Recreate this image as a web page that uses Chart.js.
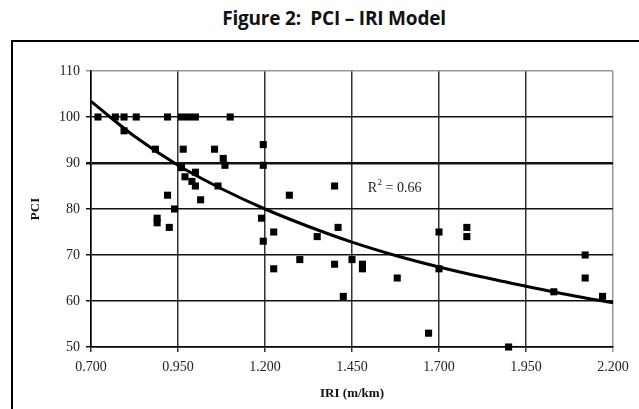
<!doctype html>
<html lang="en">
<head>
    <meta charset="UTF-8" />
    <title>Figure 2: PCI – IRI Model</title>
    <style>
        body {
            margin: 0;
            background: #fff;
            width: 639px;
            height: 409px;
            overflow: hidden;
            position: relative;
        }
        .title {
            position: absolute;
            top: 5px;
            left: 0;
            width: 668px;
            text-align: center;
            font-family: 'Open Sans', sans-serif;
            font-weight: bold;
            font-size: 19px;
            color: #111;
            white-space: pre;
            letter-spacing: -0.2px;
        }
        .frame {
            position: absolute;
            left: 11px;
            top: 40px;
            width: 660px;
            height: 400px;
            border-left: 2px solid #000;
            border-top: 2px solid #000;
        }
        .chart-container {
            position: absolute;
            left: 0;
            top: 0;
            width: 639px;
            height: 409px;
        }
    </style>
</head>
<body>
    <div class="title">Figure 2:  PCI – IRI Model</div>
    <div class="frame"></div>
    <div class="chart-container">
        <canvas id="pciChart"></canvas>
    </div>

    <script src="https://cdn.jsdelivr.net/npm/chart.js"></script>
    <script>
        // observed sections: IRI (m/km) and PCI
        const iri = [0.72, 0.77, 0.795, 0.83, 0.92, 0.96, 0.98, 1.0, 1.10,
            0.795, 0.885, 0.965, 1.055, 1.08, 1.085, 0.96,
            0.97, 0.99, 1.0, 1.0, 1.065, 1.015, 0.92, 0.94, 0.89, 0.89, 0.925,
            1.195, 1.195, 1.27, 1.40, 1.19, 1.225, 1.195, 1.35, 1.41,
            1.30, 1.225, 1.40, 1.45, 1.48, 1.48, 1.58, 1.425,
            1.67, 1.70, 1.70, 1.78, 1.78, 1.90, 2.03, 2.12, 2.12, 2.17];
        const pci = [100, 100, 100, 100, 100, 100, 100, 100, 100,
            97, 93, 93, 93, 91, 89.5, 89,
            87, 86, 88, 85, 85, 82, 83, 80, 78, 77, 76,
            94, 89.5, 83, 85, 78, 75, 73, 74, 76,
            69, 67, 68, 69, 68, 67, 65, 61,
            53, 75, 67, 76, 74, 50, 62, 70, 65, 61];

        // trend line
        const trendIri = [0.7, 0.825, 0.95, 1.075, 1.2, 1.325, 1.45, 1.575, 1.7, 1.825, 1.95, 2.075, 2.2];
        const trendPci = [103.4, 95.8, 89.5, 84.4, 80.0, 76.2, 72.8, 69.9, 67.4, 65.2, 63.2, 61.3, 59.6];

        const xTicks = [0.7, 0.95, 1.2, 1.45, 1.7, 1.95, 2.2];
        const yTicks = [50, 60, 70, 80, 90, 100, 110];

        const serif = "'Liberation Serif', 'DejaVu Serif', serif";

        // R² annotation placed in data coordinates
        const r2Plugin = {
            id: 'r2',
            afterDatasetsDraw(chart) {
                const c = chart.ctx;
                const x = chart.scales.x.getPixelForValue(1.495);
                const y = chart.scales.y.getPixelForValue(84.5);
                c.save();
                c.fillStyle = '#222';
                c.font = '14px ' + serif;
                c.textBaseline = 'middle';
                c.fillText('R', x, y);
                const w = c.measureText('R').width;
                c.font = '9px ' + serif;
                c.fillText('2', x + w + 0.5, y - 6);
                c.font = '14px ' + serif;
                c.fillText(' = 0.66', x + w + 5, y);
                c.restore();
            }
        };

        const ctx = document.getElementById('pciChart').getContext('2d');
        new Chart(ctx, {
            type: 'scatter',
            data: {
                datasets: [{
                    label: 'PCI',
                    data: iri.map((v, i) => ({ x: v, y: pci[i] })),
                    pointStyle: 'rect',
                    pointRadius: 5,
                    backgroundColor: '#000',
                    borderColor: '#000',
                    borderWidth: 0,
                    clip: false
                }, {
                    label: 'Power trend',
                    data: trendIri.map((v, i) => ({ x: v, y: trendPci[i] })),
                    showLine: true,
                    tension: 0.4,
                    cubicInterpolationMode: 'monotone',
                    pointRadius: 0,
                    borderColor: '#000',
                    borderWidth: 3,
                    clip: false
                }]
            },
            options: {
                responsive: true,
                maintainAspectRatio: false,
                animation: false,
                plugins: {
                    legend: { display: false },
                    tooltip: { enabled: false }
                },
                layout: { padding: { top: 71, right: 26, left: 0, bottom: 0 } },
                scales: {
                    x: {
                        type: 'linear',
                        min: 0.7,
                        max: 2.2,
                        afterBuildTicks: s => { s.ticks = xTicks.map(v => ({ value: v })); },
                        afterFit: s => { s.height = 62; },
                        ticks: {
                            callback: v => v.toFixed(3),
                            color: '#222',
                            font: { family: serif, size: 14 },
                            padding: 7,
                            maxRotation: 0
                        },
                        grid: {
                            color: c => c.tick && c.tick.value === 2.2 ? '#999' : '#333',
                            lineWidth: 1.5,
                            tickLength: 5
                        },
                        border: { color: '#000', width: 1.5 },
                        title: {
                            display: true,
                            text: 'IRI (m/km)',
                            color: '#111',
                            font: { family: serif, size: 13, weight: 'bold' },
                            padding: { top: 4, bottom: 8 }
                        }
                    },
                    y: {
                        min: 50,
                        max: 110,
                        afterBuildTicks: s => { s.ticks = yTicks.map(v => ({ value: v })); },
                        afterFit: s => { s.width = 91; },
                        ticks: {
                            color: '#222',
                            font: { family: serif, size: 14 },
                            padding: 6
                        },
                        grid: {
                            color: c => c.tick && c.tick.value === 110 ? '#999' : '#111',
                            lineWidth: c => c.tick && c.tick.value === 90 ? 2.5 : 1.5,
                            tickLength: 5
                        },
                        border: { color: '#000', width: 1.5 },
                        title: {
                            display: true,
                            text: 'PCI',
                            color: '#111',
                            font: { family: serif, size: 13, weight: 'bold' },
                            padding: { top: 28, bottom: 0 }
                        }
                    }
                }
            },
            plugins: [r2Plugin]
        });
    </script>
</body>
</html>
